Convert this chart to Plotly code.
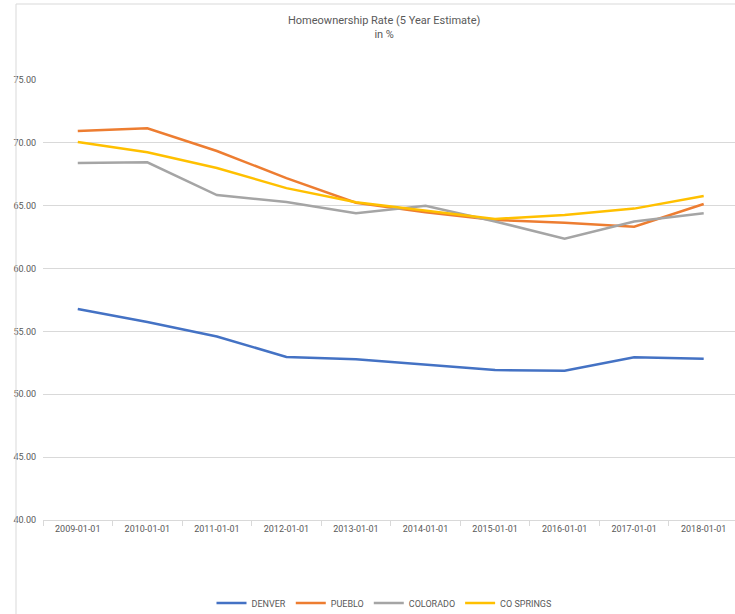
import plotly.graph_objects as go

years = ["2009-01-01", "2010-01-01", "2011-01-01", "2012-01-01", "2013-01-01",
         "2014-01-01", "2015-01-01", "2016-01-01", "2017-01-01", "2018-01-01"]
denver = [56.78, 55.75, 54.6, 52.97, 52.78, 52.36, 51.93, 51.88, 52.94, 52.83]
pueblo = [70.94, 71.16, 69.35, 67.2, 65.24, 64.48, 63.87, 63.65, 63.33, 65.14]
colorado = [68.4, 68.45, 65.85, 65.3, 64.4, 65.0, 63.75, 62.38, 63.74, 64.4]
co_springs = [70.07, 69.25, 68.0, 66.4, 65.27, 64.6, 63.95, 64.26, 64.77, 65.77]
y_ticks = [40, 45, 50, 55, 60, 65, 70, 75]

series = [
    ("DENVER", denver, "#4472C4"),
    ("PUEBLO", pueblo, "#ED7D31"),
    ("COLORADO", colorado, "#A5A5A5"),
    ("CO SPRINGS", co_springs, "#FFC000"),
]

fig = go.Figure()
for name, vals, col in series:
    fig.add_trace(go.Scatter(x=years, y=vals, name=name, mode="lines",
                             line=dict(color=col, width=2.5)))

W, H = 735, 614
L, T, B = 43, 80, 94
PW, PH = W - L, H - B - T
FONT = "Roboto, sans-serif"


def px_x(x):
    return (x - L) / PW


def px_y(y):
    return (H - B - y) / PH


fig.update_layout(
    width=W, height=H,
    margin=dict(l=L, r=0, t=T, b=B, autoexpand=False),
    paper_bgcolor="white", plot_bgcolor="white",
    font=dict(family=FONT, color="#595959", size=9),
    showlegend=True,
    legend=dict(orientation="h", x=px_x(384), xanchor="center",
                y=px_y(603), yanchor="middle",
                font=dict(family=FONT, size=9, color="#595959"), itemwidth=30,
                bgcolor="rgba(0,0,0,0)"),
    xaxis=dict(type="category", range=[-0.5, 9.45], showgrid=False,
               automargin=False,
               showline=True, linecolor="#d9d9d9", linewidth=1,
               ticks="outside", tickson="boundaries", ticklen=5,
               tickcolor="#d9d9d9", tickfont=dict(family=FONT, size=9, color="#595959")),
    yaxis=dict(range=[40, 75], tickvals=y_ticks, tickformat=".2f",
               automargin=False,
               showgrid=True, gridcolor="#d9d9d9", gridwidth=1,
               zeroline=False, showline=False, ticks="",
               ticklabelstandoff=6, tickfont=dict(family=FONT, size=9, color="#595959")),
    annotations=[
        dict(text="Homeownership Rate (5 Year Estimate)<br>in %",
             xref="paper", yref="paper", x=px_x(384), y=px_y(12),
             xanchor="center", yanchor="top", showarrow=False,
             font=dict(family=FONT, size=11, color="#595959")),
    ],
    shapes=[
        dict(type="line", xref="paper", yref="paper",
             x0=px_x(16), x1=1.05, y0=px_y(4), y1=px_y(4),
             line=dict(color="#d9d9d9", width=1)),
        dict(type="line", xref="paper", yref="paper",
             x0=px_x(16), x1=px_x(16), y0=px_y(4), y1=-0.3,
             line=dict(color="#d9d9d9", width=1)),
    ],
)

fig.write_html("out.html",
               config={"displayModeBar": False},
               post_script="document.body.style.margin='0';"
                           "document.body.style.overflow='hidden';")
